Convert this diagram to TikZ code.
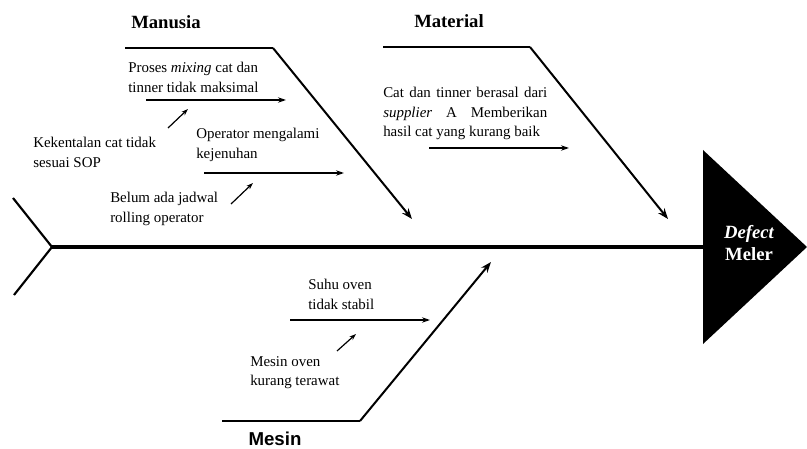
\documentclass[tikz,border=0pt]{standalone}
\usepackage{fontspec}
\setmainfont{Liberation Serif}
\newfontfamily\headsans{Liberation Sans}
\usetikzlibrary{arrows.meta}
\begin{document}
\begin{tikzpicture}[x=0.75pt,y=-0.75pt,
  cause/.style={anchor=north west,inner sep=0pt,align=left,font=\fontsize{11.2}{14.6}\selectfont},
  head/.style={inner sep=0pt,font=\fontsize{14}{16}\selectfont\bfseries},
  spine/.style={line width=2.4pt},
  rib/.style={line width=1.5pt},
  bone/.style={line width=1.5pt,-{Stealth[length=8pt,width=6pt]}},
  twig/.style={line width=1pt,-{Stealth[length=6pt,width=4pt]}},
  nub/.style={line width=0.9pt,-{Stealth[length=5pt,width=3.5pt]}}]
\useasboundingbox (0,0) rectangle (807,449);

% head of the fish
\fill (703,150) -- (807,247) -- (703,344) -- cycle;
\coordinate (headin) at (703,247);
\node[text=white,align=center,inner sep=0pt,font=\fontsize{14}{17}\selectfont\bfseries] (effect) at (749,243) {\itshape Defect\\Meler};

% spine and tail
\coordinate (tailjoin) at (52,247);
\coordinate (tailtop) at (13,198);
\coordinate (tailbot) at (14,295);
\draw[spine] (tailjoin) -- (headin);
\draw[line width=1.6pt] (tailtop) -- (tailjoin) -- (tailbot);

% main bones
\coordinate (manA) at (125,48);
\coordinate (manB) at (273,48);
\coordinate (manC) at (412,219);
\draw[rib] (manA) -- (manB);
\draw[bone] (manB) -- (manC);

\coordinate (matA) at (383,47);
\coordinate (matB) at (530,47);
\coordinate (matC) at (668,219);
\draw[rib] (matA) -- (matB);
\draw[bone] (matB) -- (matC);

\coordinate (mesA) at (222,421);
\coordinate (mesB) at (360,421);
\coordinate (mesC) at (491,262);
\draw[rib] (mesA) -- (mesB);
\draw[bone] (mesB) -- (mesC);

% category labels
\node[head] (manusia) at (166,22) {Manusia};
\node[head] (material) at (449,21) {Material};
\node[head,font=\fontsize{14}{16}\selectfont\headsans\bfseries] (mesin) at (275,439) {Mesin};

% Manusia causes
\node[cause] (c1) at (128,62) {Proses \textit{mixing} cat dan\\tinner tidak maksimal};
\coordinate (c1a) at (146,100);
\coordinate (c1b) at (286,100);
\draw[twig] (c1a) -- (c1b);

\node[cause] (c2) at (33,137) {Kekentalan cat tidak\\sesuai SOP};
\coordinate (c2a) at (168,128);
\coordinate (c2b) at (188,109);
\draw[nub] (c2a) -- (c2b);

\node[cause] (c3) at (196,128) {Operator mengalami\\kejenuhan};
\coordinate (c3a) at (204,173);
\coordinate (c3b) at (344,173);
\draw[twig] (c3a) -- (c3b);

\node[cause] (c4) at (110,192) {Belum ada jadwal\\rolling operator};
\coordinate (c4a) at (231,204);
\coordinate (c4b) at (253,183);
\draw[nub] (c4a) -- (c4b);

% Material cause
\node[cause,text width=123pt,align=justify] (c5) at (383,87) {Cat dan tinner berasal dari \textit{supplier}\ \ A\ \ Memberikan hasil cat yang kurang baik};
\coordinate (c5a) at (429,148);
\coordinate (c5b) at (569,148);
\draw[twig] (c5a) -- (c5b);

% Mesin causes
\node[cause] (c6) at (308,279) {Suhu oven\\tidak stabil};
\coordinate (c6a) at (290,320);
\coordinate (c6b) at (430,320);
\draw[twig] (c6a) -- (c6b);

\node[cause] (c7) at (250,356) {Mesin oven\\kurang terawat};
\coordinate (c7a) at (337,351);
\coordinate (c7b) at (356,334);
\draw[nub] (c7a) -- (c7b);
\end{tikzpicture}
\end{document}
